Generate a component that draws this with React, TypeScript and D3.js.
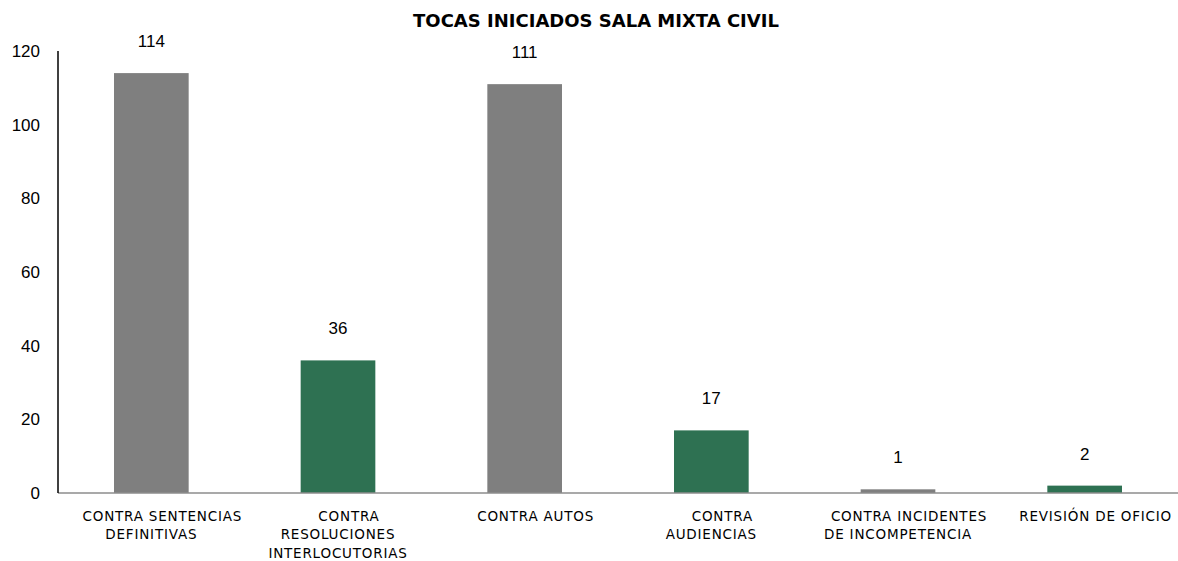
import React from "react";
import * as d3 from "d3";

const categories: string[][] = [
  ["CONTRA SENTENCIAS", "DEFINITIVAS"],
  ["CONTRA", "RESOLUCIONES", "INTERLOCUTORIAS"],
  ["CONTRA AUTOS"],
  ["CONTRA", "AUDIENCIAS"],
  ["CONTRA INCIDENTES", "DE INCOMPETENCIA"],
  ["REVISIÓN DE OFICIO"],
];
const values: number[] = [114, 36, 111, 17, 1, 2];
const barColors: string[] = ["#7f7f7f", "#2e7152", "#7f7f7f", "#2e7152", "#7f7f7f", "#2e7152"];
const yTicks: number[] = [0, 20, 40, 60, 80, 100, 120];
const title = "TOCAS INICIADOS SALA MIXTA CIVIL";

const W = 1178;
const H = 561;
const left = 58;
const right = 1178;
const top = 51;
const bottom = 493;
const firstLineShift = 11;
const font = "'DejaVu Sans', Verdana, sans-serif";
const numFont = "'Liberation Sans', Arial, sans-serif";

export default function App() {
  const x = d3
    .scaleBand<number>()
    .domain(values.map((_, i) => i))
    .range([left, right])
    .paddingInner(0.6)
    .paddingOuter(0.3);
  const y = d3.scaleLinear().domain([0, 120]).range([bottom, top]);

  return (
    <svg
      width={W}
      height={H}
      style={{ position: "absolute", left: 0, top: 0, background: "#fff" }}
    >
      <text
        x={596}
        y={27}
        textAnchor="middle"
        fontFamily={font}
        fontWeight="bold"
        fontSize={18}
        fill="#000"
      >
        {title}
      </text>
      {yTicks.map((t) => (
        <text
          key={t}
          x={40}
          y={y(t) + 6}
          textAnchor="end"
          fontFamily={numFont}
          fontSize={17}
          fill="#000"
        >
          {t}
        </text>
      ))}
      {values.map((v, i) => (
        <g key={i}>
          <rect
            x={x(i)!}
            y={y(v)}
            width={x.bandwidth()}
            height={bottom - y(v)}
            fill={barColors[i]}
          />
          <text
            x={x(i)! + x.bandwidth() / 2}
            y={y(v) - 26}
            textAnchor="middle"
            fontFamily={numFont}
            fontSize={17}
            fill="#000"
          >
            {v}
          </text>
          {categories[i].map((line, j) => (
            <text
              key={j}
              x={x(i)! + x.bandwidth() / 2 + (j === 0 ? firstLineShift : 0)}
              y={521 + j * 18.3}
              textAnchor="middle"
              fontFamily={font}
              fontSize={13.5}
              letterSpacing={0.8}
              fill="#000"
            >
              {line}
            </text>
          ))}
        </g>
      ))}
      <line x1={left} x2={right} y1={bottom} y2={bottom} stroke="#8c8c8c" strokeWidth={1.5} />
      <line x1={left} x2={left} y1={top} y2={bottom} stroke="#000" strokeWidth={1.5} />
    </svg>
  );
}
